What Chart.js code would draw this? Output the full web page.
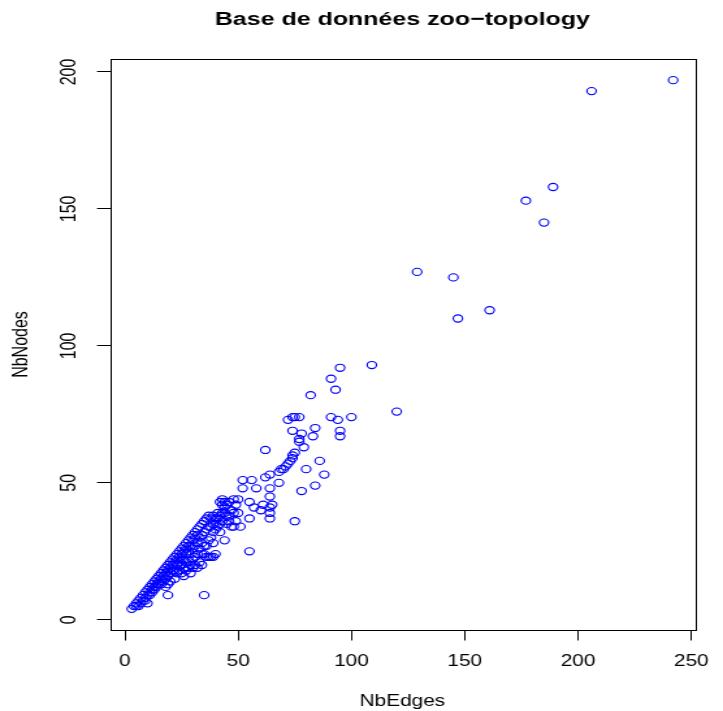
<!DOCTYPE html>
<html>
<head>
<meta charset="utf-8">
<script src="https://cdn.jsdelivr.net/npm/chart.js@4"></script>
<style>
html,body{margin:0;padding:0;background:#fff;}
#c{display:block;}
</style>
</head>
<body>
<!-- the reference picture is stretched sideways, so the canvas is too -->
<canvas id="c" width="556" height="711" style="width:723px;height:711px;"></canvas>
<script>
const chartTitle = "Base de données zoo\u2212topology";
const xLabel = "NbEdges";
const yLabel = "NbNodes";

const xTicks = [0, 50, 100, 150, 200, 250];
const yTicks = [0, 50, 100, 150, 200];

// NbEdges of each network
const nbEdges = [
3,4,5,5,6,6,7,7,8,8,
9,9,10,10,10,11,11,12,12,13,
13,13,14,14,14,15,15,15,16,16,
16,17,17,17,18,18,18,18,19,19,
19,19,19,20,20,20,20,11,12,9,
21,21,21,22,22,22,22,23,23,23,
23,24,24,24,24,25,25,25,25,25,
26,26,26,26,26,27,27,27,27,27,
28,28,28,28,28,29,29,29,29,29,
30,30,30,30,30,31,31,31,31,31,
32,32,32,32,32,33,33,33,33,34,
34,34,34,34,35,35,35,35,35,36,
36,36,36,37,37,37,37,38,38,38,
38,39,39,39,39,39,40,40,40,40,
41,41,41,42,42,42,42,43,43,43,
44,44,44,45,45,45,46,46,47,48,
48,49,50,50,51,52,52,55,55,55,
56,57,58,60,61,62,64,64,64,64,
65,64,64,68,47,46,44,43,48,49,
62,68,69,70,71,72,73,74,74,75,
79,77,77,80,86,88,84,78,83,74,
78,84,95,95,72,74,75,77,91,94,
100,82,93,91,95,109,120,75,129,145,
147,161,177,185,189,206,242
];

// NbNodes of each network (same order)
const nbNodes = [
4,5,5,6,5,7,6,8,7,9,
8,10,6,9,11,10,12,11,13,11,
12,14,12,13,15,13,14,16,13,15,
17,14,16,18,12,15,17,19,9,13,
16,18,20,14,17,19,21,9,10,7,
18,20,22,15,18,21,23,17,20,22,
24,18,21,23,25,17,20,22,24,26,
16,19,22,25,27,18,21,24,26,28,
19,22,25,27,29,17,20,24,27,30,
19,22,26,29,31,20,23,27,30,32,
19,24,28,31,33,21,26,30,34,20,
24,28,31,35,9,24,27,32,36,23,
27,33,37,23,29,34,38,23,30,34,
37,23,28,32,35,38,24,33,35,37,
34,37,39,32,35,38,43,36,39,44,
29,39,43,35,38,42,36,43,34,34,
39,36,39,44,34,48,51,25,37,43,
51,41,48,40,42,52,53,48,45,41,
42,39,37,50,40,38,41,42,44,42,
62,54,55,55,56,57,58,59,60,61,
63,65,66,55,58,53,49,47,67,69,
68,70,69,67,73,74,74,74,74,73,
74,82,84,88,92,93,76,36,127,125,
110,113,153,145,158,193,197
];

Chart.defaults.font.family = '"Liberation Sans", Arial, sans-serif';
Chart.defaults.color = "#000";

// box round the plot + main title
const boxPlugin = {
  id: "box",
  afterDraw(chart) {
    const a = chart.chartArea;
    const ctx = chart.ctx;
    ctx.save();
    ctx.strokeStyle = "#000";
    ctx.lineWidth = 1;
    ctx.strokeRect(Math.round(a.left) + 0.5, Math.round(a.top) + 0.5,
      Math.round(a.right - a.left), Math.round(a.bottom - a.top));
    ctx.fillStyle = "#000";
    ctx.font = 'bold 19.2px "Liberation Sans", Arial, sans-serif';
    ctx.textAlign = "center";
    ctx.textBaseline = "alphabetic";
    ctx.fillText(chartTitle, (a.left + a.right) / 2, 25);
    ctx.restore();
  }
};

new Chart(document.getElementById("c"), {
  type: "scatter",
  data: {
    datasets: [{
      data: nbEdges.map((x, i) => ({x: x, y: nbNodes[i]})),
      pointStyle: "circle",
      pointRadius: 3.6,
      pointHoverRadius: 3.6,
      borderWidth: 1.1,
      borderColor: "#0000ff",
      backgroundColor: "rgba(0,0,0,0)"
    }]
  },
  options: {
    responsive: false,
    animation: false,
    devicePixelRatio: 1,
    layout: {padding: {left: 0, right: 11.3, top: 59, bottom: 0}},
    plugins: {legend: {display: false}, tooltip: {enabled: false}},
    scales: {
      x: {
        type: "linear",
        min: -6.56,
        max: 251.56,
        border: {display: false},
        grid: {drawOnChartArea: false, drawTicks: true, tickLength: 10.5, color: "#000", lineWidth: 1},
        ticks: {font: {size: 16}, color: "#000", padding: 11, maxRotation: 0, autoSkip: false},
        title: {display: true, text: xLabel, font: {size: 16}, color: "#000", padding: {top: 0, bottom: 0}},
        afterBuildTicks: s => { s.ticks = xTicks.map(v => ({value: v})); },
        afterFit: s => { s.height = 81; }
      },
      y: {
        type: "linear",
        min: -3.72,
        max: 204.72,
        border: {display: false},
        grid: {drawOnChartArea: false, drawTicks: true, tickLength: 10, color: "#000", lineWidth: 1},
        ticks: {font: {size: 16}, color: "#000", padding: 7.5, minRotation: 90, maxRotation: 90, crossAlign: "center", autoSkip: false},
        title: {display: true, text: yLabel, font: {size: 16}, color: "#000", padding: {top: 6.8, bottom: 0}},
        afterBuildTicks: s => { s.ticks = yTicks.map(v => ({value: v})); },
        afterFit: s => { s.width = 84.6; }
      }
    }
  },
  plugins: [boxPlugin]
});
</script>
</body>
</html>
